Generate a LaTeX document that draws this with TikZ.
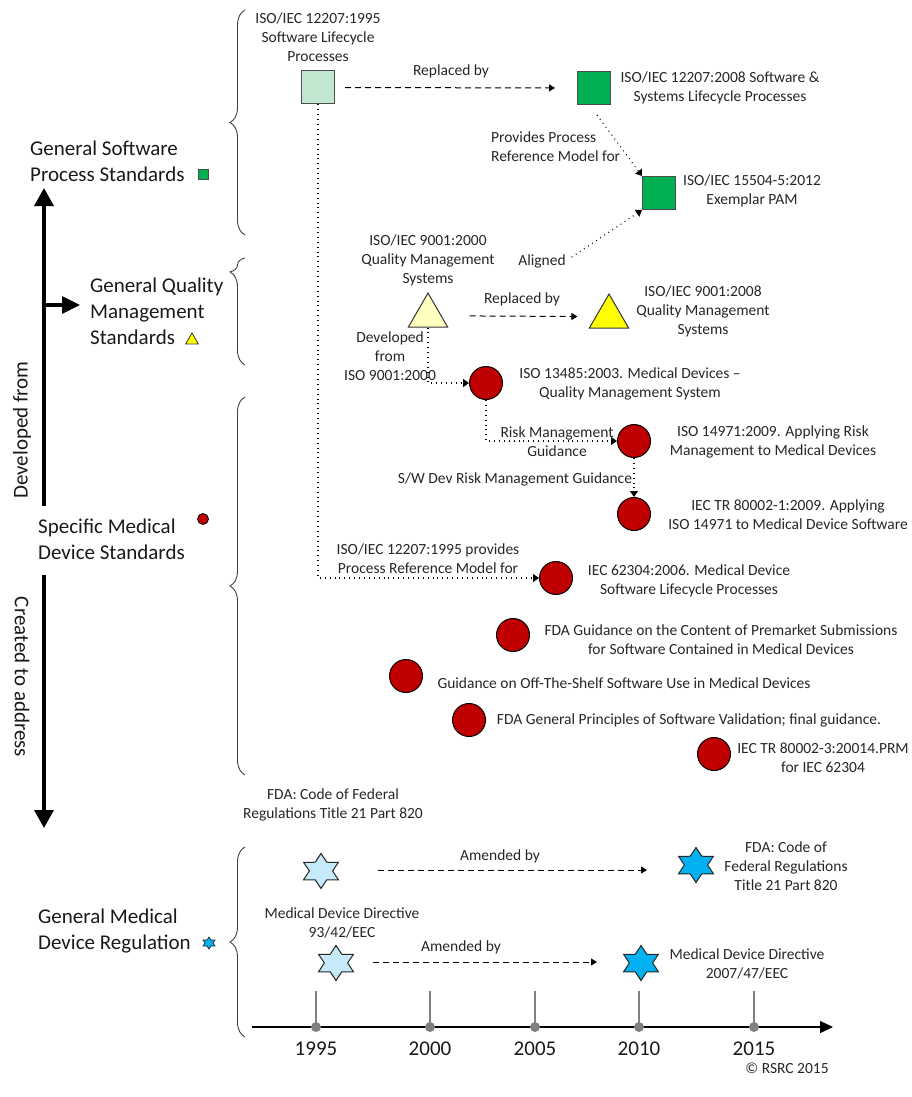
\documentclass[tikz,border=0pt]{standalone}
\usepackage{fontspec}
\setmainfont{Carlito}
\usetikzlibrary{arrows.meta,shapes.geometric,decorations.pathreplacing,calc}
\definecolor{lgreen}{RGB}{192,233,208}
\definecolor{dgreen}{RGB}{0,176,80}
\definecolor{lyellow}{RGB}{255,255,192}
\definecolor{yel}{RGB}{255,255,0}
\definecolor{dred}{RGB}{192,0,0}
\definecolor{lblue}{RGB}{198,234,250}
\definecolor{sblue}{RGB}{0,176,240}
\definecolor{tickgray}{RGB}{128,128,128}
\begin{document}
\begin{tikzpicture}[x=1pt,y=-1pt,
 sm/.style={font=\fontsize{15.5pt}{19pt}\selectfont, inner sep=0pt, align=center, text=black!85},
 big/.style={font=\fontsize{21pt}{26pt}\selectfont, inner sep=0pt, align=left, anchor=west, text=black!90},
 yr/.style={font=\fontsize{21pt}{26pt}\selectfont, inner sep=0pt, text=black!90},
 sqbox/.style={rectangle, draw=black!70, line width=1pt, minimum size=33pt, inner sep=0pt},
 circ/.style={circle, draw=black, line width=1pt, fill=dred, minimum size=33pt, inner sep=0pt},
 tri/.style={regular polygon, regular polygon sides=3, draw=black!80, line width=1pt, minimum size=45.3pt, inner sep=0pt},
 hexstar/.style={star, star points=6, star point ratio=1.73, draw=black!85, line width=1pt, minimum size=35pt, inner sep=0pt, xscale=1.15},
 dasharrow/.style={line width=1pt, dash pattern=on 6pt off 4pt, -{Triangle[width=7pt,length=6pt]}},
 dotline/.style={line width=1.1pt, dash pattern=on 0.9pt off 4pt, -{Triangle[width=8pt,length=6pt]}},
 bigarrow/.style={line width=3.4pt, -{Triangle[width=19pt,length=18pt]}},
 lbrace/.style={decorate, decoration={brace, amplitude=15pt}, line width=0.9pt, draw=black!75},
]
\path[use as bounding box] (0,0) rectangle (911,1097);

% ---------- left side legend ----------
\node[big] (gss) at (30,161) {General Software\\Process Standards};
\node[rectangle, draw=black!70, line width=0.8pt, fill=dgreen, minimum size=10pt, inner sep=0pt] (legsq) at (203,174) {};
\node[big] (gqm) at (90,311) {General Quality\\Management\\Standards};
\node[regular polygon, regular polygon sides=3, draw=black!80, line width=0.8pt, fill=yel, minimum size=14.7pt, inner sep=0pt] (legtri) at (192,340.3) {};
\node[big] (smd) at (38,539) {Specific Medical\\Device Standards};
\node[circle, draw=black, line width=0.8pt, fill=dred, minimum size=11pt, inner sep=0pt] (legcirc) at (203,519) {};
\node[big] (gmd) at (38,931) {General Medical\\Device Regulation};
\node[hexstar, fill=sblue, minimum size=12pt, line width=0.7pt, xscale=1] (legstar) at (209,943) {};

\node[yr, rotate=90] (devfrom) at (22,430) {Developed from};
\node[yr, rotate=-90] (cta) at (22,677) {Created to address};

\coordinate (upStart) at (44,506);
\coordinate (upEnd) at (44,188);
\draw[bigarrow] (upStart) -- (upEnd);
\coordinate (brStart) at (44,305);
\coordinate (brEnd) at (80,305);
\draw[line width=3.4pt, -{Triangle[width=17pt,length=18pt]}] (brStart) -- (brEnd);
\coordinate (dnStart) at (44,575);
\coordinate (dnEnd) at (44,828);
\draw[bigarrow] (dnStart) -- (dnEnd);

% ---------- braces ----------
\draw[lbrace] (245,235) -- (245,10);
\draw[lbrace, decoration={aspect=0.87}] (245,365) -- (245,258);
\draw[lbrace] (245,775) -- (245,397);
\draw[lbrace] (245,1037) -- (245,847);

% ---------- software process standards ----------
\node[sqbox, fill=lgreen] (sqA) at (318,87.5) {};
\node[sm] (lblA) at (318,37.5) {ISO/IEC 12207:1995\\Software Lifecycle\\Processes};
\node[sqbox, fill=dgreen] (sqB) at (594,88) {};
\node[sm] (lblB) at (720,87.5) {ISO/IEC 12207:2008 Software \&\\Systems Lifecycle Processes};
\node[sm] (rep1) at (451,71) {Replaced by};
\draw[dasharrow, shorten <=10pt, shorten >=22pt] (sqA) -- (sqB);

\node[sqbox, fill=dgreen] (sqC) at (659,193) {};
\node[sm] (lblC) at (752,191) {ISO/IEC 15504-5:2012\\Exemplar PAM};
\node[sm, align=left, anchor=west] (prov) at (491,146.5) {Provides Process\\Reference Model for};
\draw[dotline] ($(sqB.south)+(3,10)$) -- (sqC.north west);
\node[sm] (aligned) at (542,261) {Aligned};
\draw[dotline, shorten <=7pt] (aligned.east) -- (sqC.south west);

% ---------- quality management ----------
\node[tri, fill=lyellow] (triA) at (428,315.7) {};
\node[sm] (lblTA) at (428,260.5) {ISO/IEC 9001:2000\\Quality Management\\Systems};
\node[tri, fill=yel] (triB) at (609,316.7) {};
\node[sm] (lblTB) at (703,311) {ISO/IEC 9001:2008\\Quality Management\\Systems};
\node[sm] (rep2) at (522,299) {Replaced by};
\draw[dasharrow, shorten <=28pt, shorten >=18pt] (triA) -- (triB);

% ---------- medical device standards ----------
\node[sm] (devlbl) at (390,356) {Developed\\from\\ISO 9001:2000};
\node[circ] (cD) at (486,383) {};
\node[sm] (lblD) at (630,383.5) {ISO 13485:2003. Medical Devices –\\Quality Management System};
\draw[dotline] (triA.south) |- (cD.west);

\node[circ] (cE) at (634,441) {};
\node[sm] (lblE) at (773,441.5) {ISO 14971:2009. Applying Risk\\Management to Medical Devices};
\node[sm] (risk) at (557,441.5) {Risk Management\\Guidance};
\draw[dotline] (cD.south) |- (cE.west);

\node[circ] (cF) at (634,514) {};
\node[sm] (lblF) at (788,514.5) {IEC TR 80002-1:2009. Applying\\ISO 14971 to Medical Device Software};
\node[sm] (swdev) at (515,479) {S/W Dev Risk Management Guidance};
\draw[dotline] (cE.south) -- (cF.north);

\node[circ] (cG) at (556,578) {};
\node[sm] (lblG) at (689,580.5) {IEC 62304:2006. Medical Device\\Software Lifecycle Processes};
\node[sm] (prov2) at (428,559) {ISO/IEC 12207:1995 provides\\Process Reference Model for};
\draw[dotline] (sqA.south) |- (cG.west);

\node[circ] (cH) at (513,635) {};
\node[sm] (lblH) at (721,639.5) {FDA Guidance on the Content of Premarket Submissions\\for Software Contained in Medical Devices};
\node[circ] (cI) at (406,676) {};
\node[sm] (lblI) at (624,683) {Guidance on Off-The-Shelf Software Use in Medical Devices};
\node[circ] (cJ) at (469,720) {};
\node[sm] (lblJ) at (689,720) {FDA General Principles of Software Validation; final guidance.};
\node[circ] (cK) at (714,754) {};
\node[sm] (lblK) at (823,757.5) {IEC TR 80002-3:20014.PRM\\for IEC 62304};

% ---------- regulation ----------
\node[sm] (fda1) at (333,805) {FDA: Code of Federal\\Regulations Title 21 Part 820};
\node[hexstar, fill=lblue] (s1) at (321,871) {};
\node[hexstar, fill=sblue] (s2) at (696,865) {};
\node[sm] (lblS2) at (786,866) {FDA: Code of\\Federal Regulations\\Title 21 Part 820};
\node[sm] (amd1) at (500,856) {Amended by};
\draw[dasharrow] ($(s1)+(57,-1)$) -- ($(s2)+(-49,5)$);

\node[sm] (mdd) at (342,922.5) {Medical Device Directive\\93/42/EEC};
\node[hexstar, fill=lblue] (s3) at (336,963) {};
\node[hexstar, fill=sblue] (s4) at (641,963) {};
\node[sm] (lblS4) at (747,963.5) {Medical Device Directive\\2007/47/EEC};
\node[sm] (amd2) at (461,947) {Amended by};
\draw[dasharrow] ($(s3)+(37,-1)$) -- ($(s4)+(-44,-1)$);

% ---------- timeline ----------
\coordinate (ax0) at (252,1027);
\coordinate (ax1) at (833,1027);
\draw[line width=1.3pt, -{Triangle[width=12pt,length=13pt]}] (ax0) -- (ax1);
\foreach \xx/\yy in {316/1995,430/2000,535/2005,639/2010,754/2015}{
  \draw[tickgray, line width=2pt] (\xx,991) -- (\xx,1027);
  \fill[tickgray] (\xx,1027) circle (5pt);
  \node[yr] (y\yy) at (\xx,1049) {\yy};
}

\node[sm] (copy) at (787,1068) {© RSRC 2015};
\end{tikzpicture}
\end{document}
